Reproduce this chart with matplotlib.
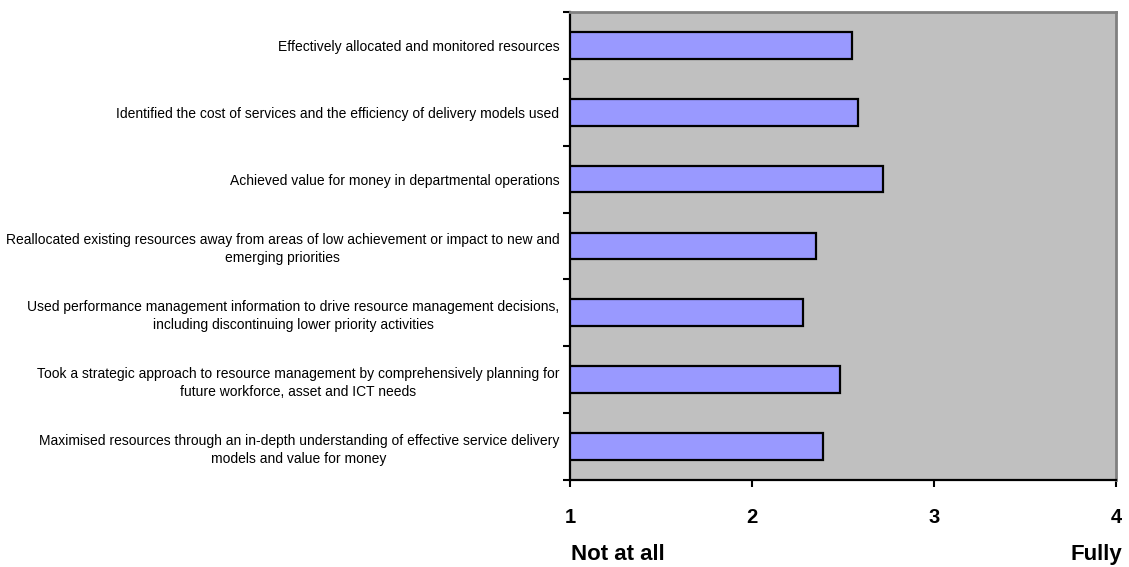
import matplotlib
matplotlib.use("Agg")
import matplotlib.pyplot as plt
import numpy as np

categories = [
    "Effectively allocated and monitored resources",
    "Identified the cost of services and the efficiency of delivery models used",
    "Achieved value for money in departmental operations",
    "Reallocated existing resources away from areas of low achievement or impact to new and\nemerging priorities",
    "Used performance management information to drive resource management decisions,\nincluding discontinuing lower priority activities",
    "Took a strategic approach to resource management by comprehensively planning for\nfuture workforce, asset and ICT needs",
    "Maximised resources through an in-depth understanding of effective service delivery\nmodels and value for money",
]
scores = [2.55, 2.58, 2.72, 2.35, 2.28, 2.48, 2.39]
x_ticks = [1, 2, 3, 4]

plt.rcParams['font.family'] = ['Liberation Sans', 'DejaVu Sans']

fig = plt.figure(figsize=(11.29, 5.67), dpi=100)
ax = fig.add_axes([0.5053, 0.1534, 0.4832, 0.8256])
ax.set_facecolor('#C0C0C0')

ypos = np.arange(len(categories))
ax.barh(ypos, np.array(scores) - 1, left=1, height=0.4,
        color='#9999FF', edgecolor='black', linewidth=1.6, zorder=3)

ax.set_xlim(1, 4)
ax.set_ylim(len(categories) - 0.5, -0.5)

ax.set_xticks(x_ticks)
ax.set_xticklabels([str(t) for t in x_ticks], fontsize=14.5, fontweight='bold')
ax.tick_params(axis='x', direction='out', length=5, width=1.5, pad=15)

ax.set_yticks(ypos)
ax.set_yticklabels(categories, fontsize=10, multialignment='center', linespacing=1.35)
ax.tick_params(axis='y', which='major', length=0, pad=8)
ax.set_yticks(np.arange(-0.5, len(categories)), minor=True)
ax.tick_params(axis='y', which='minor', direction='out', length=5, width=1.5)

for s in ['left', 'bottom']:
    ax.spines[s].set_color('black')
    ax.spines[s].set_linewidth(1.6)
for s in ['top', 'right']:
    ax.spines[s].set_color('#808080')
    ax.spines[s].set_linewidth(2)

fig.text(0.506, 0.012, "Not at all", fontsize=16, fontweight='bold', ha='left', va='baseline')
fig.text(0.994, 0.012, "Fully", fontsize=16, fontweight='bold', ha='right', va='baseline')

fig.savefig("out.png", dpi=100)
